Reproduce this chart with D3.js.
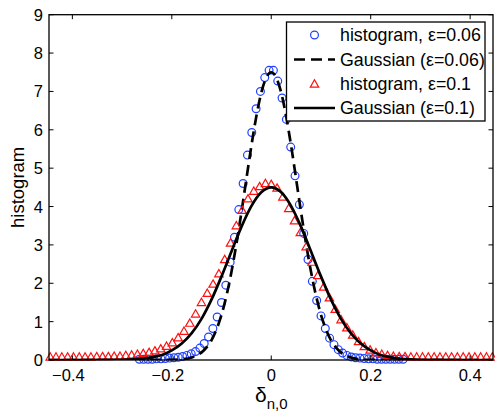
<!DOCTYPE html>
<html>
<head>
<meta charset="utf-8">
<script src="https://cdn.jsdelivr.net/npm/d3@7"></script>
<style>
  body { margin: 0; background: #fff; }
  text { font-family: "Liberation Sans", Arial, Helvetica, sans-serif; fill: #000; }
</style>
</head>
<body>
<script>
// histogram eps=0.06 (bin width ~0.0087, centres symmetric about 0)
var binW1 = 0.0087;
var hist006 = [0.02, 0.02, 0.02, 0.02, 0.03, 0.03, 0.04, 0.05, 0.06, 0.07, 0.09, 0.12, 0.16, 0.22, 0.31,
    0.43, 0.6, 0.82, 1.12, 1.5, 1.95, 2.55, 3.2, 3.92, 4.6, 5.34, 5.93, 6.55, 7.0, 7.36, 7.55,
    7.55, 7.27, 6.83, 6.27, 5.55, 4.8, 4.05, 3.3, 2.62, 2.05, 1.55, 1.15, 0.82, 0.57, 0.4,
    0.27, 0.18, 0.12, 0.08, 0.06, 0.05, 0.04, 0.03, 0.03, 0.02, 0.02, 0.02, 0.02, 0.02, 0.02, 0.02];

// histogram eps=0.1 (bin width ~0.0117, centred on 0)
var binW2 = 0.0117;
var hist01 = [0.08, 0.08, 0.08, 0.08, 0.08, 0.08, 0.08, 0.08, 0.09, 0.09, 0.09, 0.10, 0.10,
    0.12, 0.13, 0.15, 0.17, 0.20, 0.24, 0.29, 0.36, 0.45, 0.58, 0.75, 0.96, 1.20,
    1.50, 1.74, 1.98, 2.25, 2.62, 3.05, 3.50, 3.90, 4.20, 4.40, 4.52, 4.60,
    4.58,
    4.48, 4.25, 3.95, 3.63, 3.32, 2.95, 2.55, 2.20, 1.90, 1.62, 1.32, 1.05,
    0.84, 0.65, 0.48, 0.35, 0.26, 0.19, 0.15, 0.12, 0.10, 0.09, 0.09, 0.08, 0.08,
    0.08, 0.08, 0.08, 0.08, 0.08, 0.08, 0.08, 0.08, 0.08, 0.08, 0.08, 0.08, 0.08];

// gaussian curves
var gaussX006 = [-0.45, -0.30, -0.25, -0.20, -0.18, -0.16, -0.15, -0.14, -0.13, -0.12, -0.11, -0.10, -0.09,
    -0.08, -0.07, -0.06, -0.05, -0.04, -0.03, -0.02, -0.01, 0, 0.01, 0.02, 0.03, 0.04, 0.05, 0.06,
    0.07, 0.08, 0.09, 0.10, 0.11, 0.12, 0.13, 0.14, 0.15, 0.16, 0.18, 0.20, 0.25, 0.30, 0.45];
var gaussY006 = [0, 0, 0.001, 0.005, 0.019, 0.066, 0.12, 0.20, 0.33, 0.52, 0.80, 1.18, 1.68,
    2.30, 3.03, 3.85, 4.72, 5.58, 6.35, 6.97, 7.36, 7.5, 7.36, 6.97, 6.35, 5.58, 4.72, 3.85,
    3.03, 2.30, 1.68, 1.18, 0.80, 0.52, 0.33, 0.20, 0.12, 0.066, 0.019, 0.005, 0.001, 0, 0];

var gaussX01 = [-0.45, -0.40, -0.34, -0.30, -0.28, -0.26, -0.24, -0.22, -0.20, -0.18, -0.16, -0.14, -0.12,
    -0.10, -0.08, -0.06, -0.04, -0.02, 0, 0.02, 0.04, 0.06, 0.08, 0.10, 0.12, 0.14, 0.16, 0.18,
    0.20, 0.22, 0.24, 0.26, 0.28, 0.30, 0.34, 0.40, 0.45];
var gaussY01 = [0, 0, 0.002, 0.007, 0.015, 0.033, 0.069, 0.13, 0.25, 0.43, 0.70, 1.08, 1.58,
    2.18, 2.83, 3.47, 4.01, 4.37, 4.5, 4.37, 4.01, 3.47, 2.83, 2.18, 1.58, 1.08, 0.70, 0.43,
    0.25, 0.13, 0.069, 0.033, 0.015, 0.007, 0.002, 0, 0];

var xTicks = [-0.4, -0.2, 0, 0.2, 0.4];
var yTicks = [0, 1, 2, 3, 4, 5, 6, 7, 8, 9];
var legendLabels = ["histogram, \u03b5=0.06", "Gaussian (\u03b5=0.06)", "histogram, \u03b5=0.1", "Gaussian (\u03b5=0.1)"];

var width = 495, height = 412;
var padL = 49, padR = 493, padT = 14.7, padB = 360;

var svg = d3.select("body").append("svg")
    .attr("width", width)
    .attr("height", height);

var x = d3.scaleLinear().domain([-0.447, 0.446]).range([padL, padR]);
var y = d3.scaleLinear().domain([0, 9]).range([padB, padT]);

svg.append("clipPath").attr("id", "clip")
    .append("rect")
    .attr("x", padL).attr("y", padT)
    .attr("width", padR - padL).attr("height", padB - padT);

var plot = svg.append("g");

var n1 = hist006.length / 2;
var pts006 = hist006.map(function (v, i) { return { x: (i - n1 + 0.5) * binW1, y: v }; });
var n2 = (hist01.length - 1) / 2;
var pts01 = hist01.map(function (v, i) { return { x: (i - n2) * binW2, y: v }; });

var line = d3.line()
    .x(function (d) { return x(d[0]); })
    .y(function (d) { return y(d[1]); })
    .curve(d3.curveMonotoneX);

var blue = "#1f3fff", red = "#ff1010";

// circles
plot.append("g").selectAll("circle")
    .data(pts006)
    .enter().append("circle")
    .attr("cx", function (d) { return x(d.x); })
    .attr("cy", function (d) { return y(d.y); })
    .attr("r", 3.9)
    .attr("fill", "none")
    .attr("stroke", blue)
    .attr("stroke-width", 1.2);

// dashed gaussian
plot.append("path")
    .datum(d3.zip(gaussX006, gaussY006))
    .attr("clip-path", "url(#clip)")
    .attr("d", line)
    .attr("fill", "none")
    .attr("stroke", "#000")
    .attr("stroke-width", 2.7)
    .attr("stroke-dasharray", "11,6");

// triangles
var tri = "M0,-4.2L4.2,3.1L-4.2,3.1Z";
plot.append("g").selectAll("path")
    .data(pts01)
    .enter().append("path")
    .attr("d", tri)
    .attr("transform", function (d) { return "translate(" + x(d.x) + "," + y(d.y) + ")"; })
    .attr("fill", "none")
    .attr("stroke", red)
    .attr("stroke-width", 1.2);

// solid gaussian
plot.append("path")
    .datum(d3.zip(gaussX01, gaussY01))
    .attr("clip-path", "url(#clip)")
    .attr("d", line)
    .attr("fill", "none")
    .attr("stroke", "#000")
    .attr("stroke-width", 2.7);

// axes box
var ax = svg.append("g");
ax.append("rect")
    .attr("x", padL).attr("y", padT)
    .attr("width", padR - padL).attr("height", padB - padT)
    .attr("fill", "none")
    .attr("stroke", "#000")
    .attr("stroke-width", 1.3);

xTicks.forEach(function (t) {
    ax.append("line").attr("x1", x(t)).attr("x2", x(t)).attr("y1", padB).attr("y2", padB - 4.5)
        .attr("stroke", "#000").attr("stroke-width", 1);
    ax.append("line").attr("x1", x(t)).attr("x2", x(t)).attr("y1", padT).attr("y2", padT + 4.5)
        .attr("stroke", "#000").attr("stroke-width", 1);
    ax.append("text")
        .attr("x", x(t) - (t < 0 ? 4 : 0))
        .attr("y", 381)
        .attr("text-anchor", "middle")
        .style("font-size", "16.5px")
        .text(t < 0 ? "\u2212" + Math.abs(t) : String(t));
});

yTicks.forEach(function (t) {
    ax.append("line").attr("x1", padL).attr("x2", padL + 4.5).attr("y1", y(t)).attr("y2", y(t))
        .attr("stroke", "#000").attr("stroke-width", 1);
    ax.append("line").attr("x1", padR).attr("x2", padR - 4.5).attr("y1", y(t)).attr("y2", y(t))
        .attr("stroke", "#000").attr("stroke-width", 1);
    ax.append("text")
        .attr("x", 43)
        .attr("y", y(t) + 6)
        .attr("text-anchor", "end")
        .style("font-size", "16.5px")
        .text(t);
});

// axis labels
svg.append("text")
    .attr("transform", "translate(24," + ((padT + padB) / 2) + ") rotate(-90)")
    .attr("text-anchor", "middle")
    .style("font-size", "18.5px")
    .text("histogram");

var xl = svg.append("text")
    .attr("x", 255)
    .attr("y", 402)
    .style("font-size", "21px");
xl.append("tspan").text("\u03b4");
xl.append("tspan").attr("dy", 7).style("font-size", "15px").text("n,0");

// legend
var lg = svg.append("g");
lg.append("rect")
    .attr("x", 286.5).attr("y", 22)
    .attr("width", 198.5).attr("height", 99)
    .attr("fill", "#fff")
    .attr("stroke", "#000")
    .attr("stroke-width", 1.3);

var rowY = [35, 59.5, 84, 108];
legendLabels.forEach(function (label, i) {
    var cy = rowY[i];
    if (i === 0) {
        lg.append("circle").attr("cx", 314.5).attr("cy", cy).attr("r", 3.9)
            .attr("fill", "none").attr("stroke", blue).attr("stroke-width", 1.2);
    } else if (i === 2) {
        lg.append("path").attr("d", tri).attr("transform", "translate(314.5," + cy + ")")
            .attr("fill", "none").attr("stroke", red).attr("stroke-width", 1.2);
    } else {
        lg.append("line").attr("x1", 294).attr("x2", 335).attr("y1", cy).attr("y2", cy)
            .attr("stroke", "#000").attr("stroke-width", 2.7)
            .attr("stroke-dasharray", i === 1 ? "11,6" : null);
    }
    lg.append("text")
        .attr("x", 340)
        .attr("y", cy + 6)
        .style("font-size", "17.8px")
        .text(label);
});
</script>
</body>
</html>
